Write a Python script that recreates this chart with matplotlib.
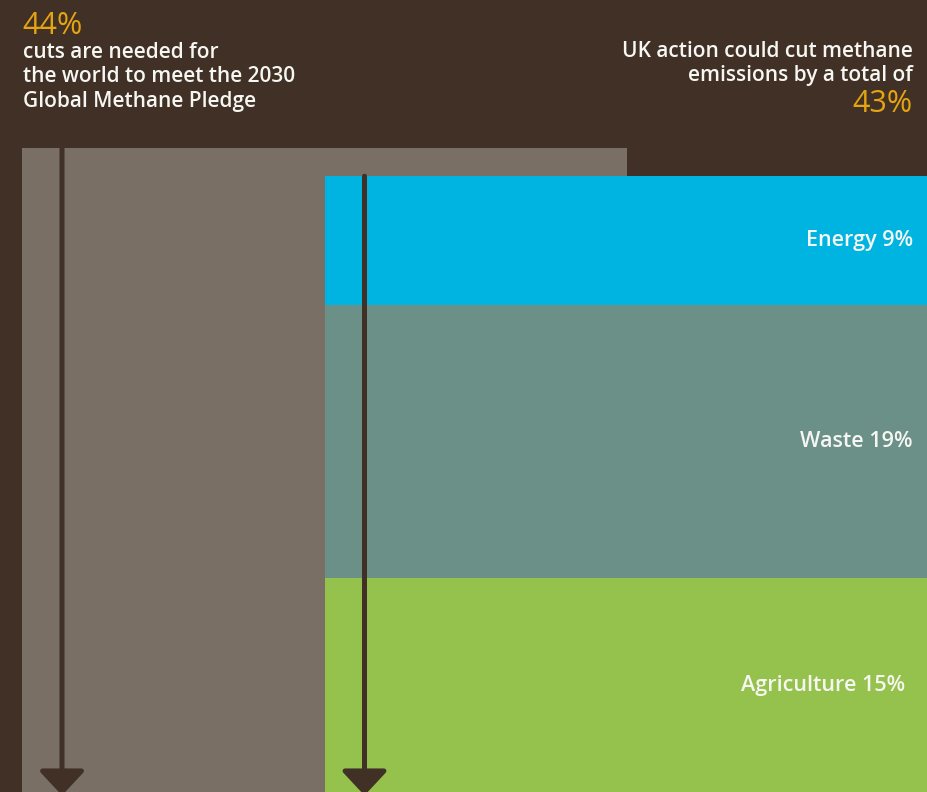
import numpy as np
import matplotlib.pyplot as plt

# data
sectors = ['Energy', 'Waste', 'Agriculture']
sector_pct = [9, 19, 15]
sector_colors = ['#00b4e1', '#6a9087', '#94c24c']
global_pct = 44
uk_total = sum(sector_pct)
left_lines = ['cuts are needed for', 'the world to meet the 2030', 'Global Methane Pledge']
right_lines = ['UK action could cut methane', 'emissions by a total of']

bg = '#403025'
gray = '#796f65'
orange = '#e5a411'
white = '#f6f6f2'
font = ['Open Sans', 'DejaVu Sans']

W, H = 928, 792
fig = plt.figure(figsize=(W / 100, H / 100), dpi=100)
fig.patch.set_facecolor(bg)
fig.patch.set_linewidth(0)
ax = fig.add_axes([0, 0, 1, 1])
ax.set_facecolor(bg)
ax.set_xlim(0, W)
ax.set_ylim(0.09, 55.28)
ax.axis('off')

# grey bar for the global pledge (top sits 2% above the UK stack)
gray_top = uk_total + 2
ax.bar(22.5, gray_top, width=605, bottom=0, align='edge', color=gray, lw=0,
       clip_on=False)

# UK stack, agriculture at the bottom
bottom = 0
for name, pct, col in zip(sectors[::-1], sector_pct[::-1], sector_colors[::-1]):
    ax.bar(325, pct, width=650, bottom=bottom, align='edge', color=col, lw=0,
           clip_on=False)
    right = 905 if name == 'Agriculture' else 913
    ax.text(right, bottom + pct / 2, f'{name} {pct}%', ha='right', va='center',
            color=white, fontsize=15.5, fontweight=600, family=font)
    bottom += pct

# arrows
for x, top in [(62, gray_top), (364.5, uk_total)]:
    ax.annotate('', xy=(x, -0.15), xytext=(x, top), annotation_clip=False,
                arrowprops=dict(arrowstyle='-|>,head_length=15,head_width=14',
                                mutation_scale=1, color=bg, lw=3.6,
                                shrinkA=0, shrinkB=0))


def px(x, y):
    return x / W, 1 - y / H


# header texts
fig.text(*px(22, 34), f'{global_pct}%', color=orange, fontsize=22,
         fontweight='normal', family=font, va='baseline')
for i, line in enumerate(left_lines):
    fig.text(*px(23, 58 + i * 24.5), line, color=white, fontsize=15,
             fontweight=600, family=font, va='baseline')
for i, line in enumerate(right_lines):
    fig.text(*px(913, 57 + i * 23.5), line, color=white, fontsize=15,
             fontweight=600, family=font, va='baseline', ha='right')
fig.text(*px(913, 112), f'{uk_total}%', color=orange, fontsize=22,
         fontweight='normal', family=font, va='baseline', ha='right')

fig.savefig('out.png', dpi=100, facecolor=bg)
